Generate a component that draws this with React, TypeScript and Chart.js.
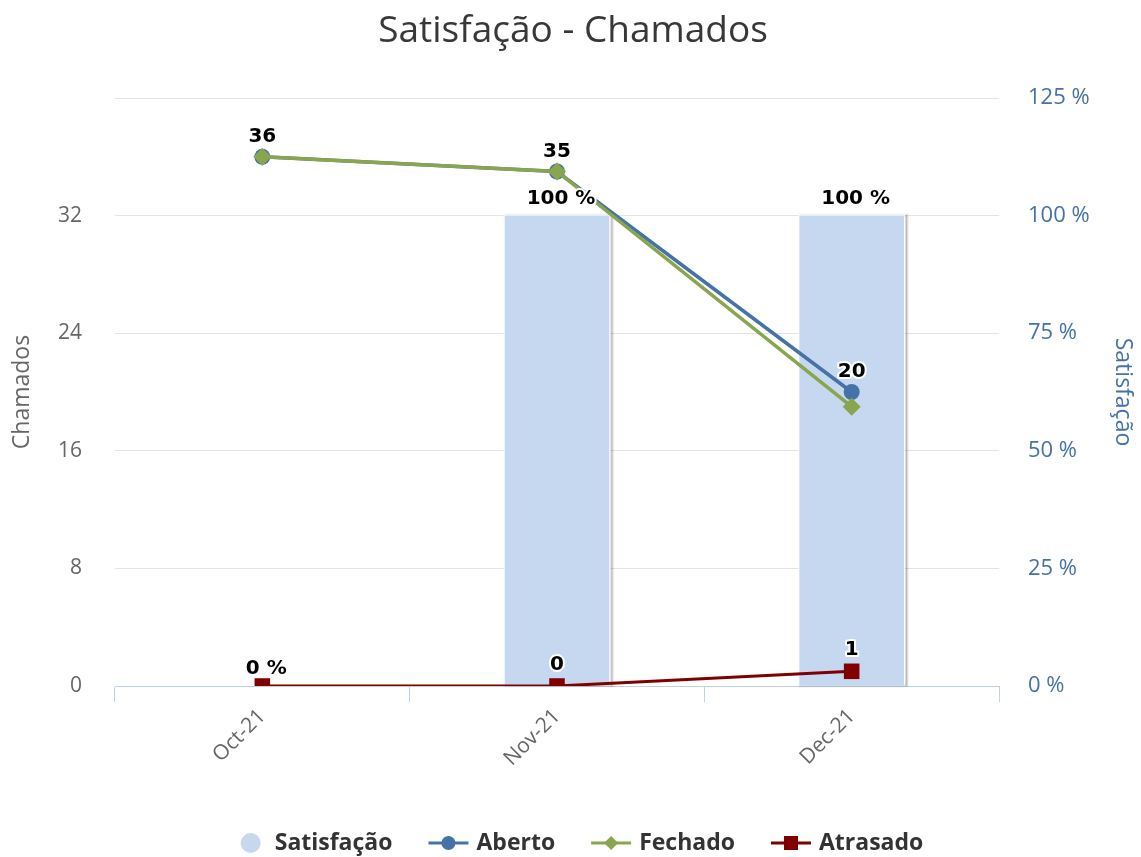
import React, { useEffect, useRef } from "react";
import { Chart, registerables } from "chart.js";

Chart.register(...registerables);

const categories = ["Oct-21", "Nov-21", "Dec-21"];
const satisfacao = [0, 100, 100];
const aberto = [36, 35, 20];
const fechado = [36, 35, 19];
const atrasado = [0, 0, 1];

const satisfacaoLabelShown = [true, true, true];
const abertoLabelShown = [true, true, true];
const fechadoLabelShown = [false, false, false];
const atrasadoLabelShown = [false, true, true];

const leftAxisMax = 40;
const leftAxisStep = 8;
const rightAxisMax = 125;
const rightAxisStep = 25;

const TITLE = "Satisfação - Chamados";
const LEFT_TITLE = "Chamados";
const RIGHT_TITLE = "Satisfação";

const COLORS = {
  bar: "#C5D8F0",
  aberto: "#4572A7",
  fechado: "#89A54E",
  atrasado: "#800000",
  axisBlue: "#4572A7",
  tick: "#666666",
  grid: "#E3E3E3",
  axisLine: "#C0D0E0",
};

const FONT_MAIN = '"Open Sans", "DejaVu Sans", sans-serif';
const FONT_LABEL = '"DejaVu Sans", Verdana, sans-serif';

const WIDTH = 1141;
const HEIGHT = 857;

function drawMarker(ctx: CanvasRenderingContext2D, kind: string, x: number, y: number, r: number, color: string) {
  ctx.fillStyle = color;
  ctx.beginPath();
  if (kind === "circle") {
    ctx.arc(x, y, r, 0, Math.PI * 2);
  } else if (kind === "rectRot") {
    ctx.moveTo(x, y - r);
    ctx.lineTo(x + r, y);
    ctx.lineTo(x, y + r);
    ctx.lineTo(x - r, y);
    ctx.closePath();
  } else {
    ctx.rect(x - r, y - r, r * 2, r * 2);
  }
  ctx.fill();
}

// Highcharts-like bar shadow: offset strokes under the bar plus a white border
const barShadowPlugin = {
  id: "barShadow",
  beforeDatasetDraw(chart: any, args: any) {
    const ds = chart.data.datasets[args.index];
    if (ds.type !== "bar") return;
    const ctx = chart.ctx as CanvasRenderingContext2D;
    const meta = chart.getDatasetMeta(args.index);
    ctx.save();
    meta.data.forEach((el: any) => {
      const h = el.base - el.y;
      if (h <= 0) return;
      const left = el.x - el.width / 2;
      const strokes = [
        { w: 5, a: 0.05 },
        { w: 3, a: 0.1 },
        { w: 1, a: 0.15 },
      ];
      strokes.forEach((s) => {
        ctx.strokeStyle = `rgba(0,0,0,${s.a})`;
        ctx.lineWidth = s.w;
        ctx.strokeRect(left + 1.5, el.y + 0.5, el.width + 1, h - 1);
      });
      ctx.fillStyle = "#FFFFFF";
      ctx.fillRect(left - 1, el.y - 1, el.width + 2, h + 1);
    });
    ctx.restore();
  },
};

const dataLabelPlugin = {
  id: "dataLabelsCustom",
  afterDatasetsDraw(chart: any) {
    const ctx = chart.ctx as CanvasRenderingContext2D;
    chart.data.datasets.forEach((ds: any, di: number) => {
      const shown: boolean[] = ds.labelShown;
      if (!shown) return;
      const meta = chart.getDatasetMeta(di);
      meta.data.forEach((el: any, i: number) => {
        if (!shown[i]) return;
        const v = ds.data[i];
        const text = `${v}${ds.labelSuffix || ""}`;
        const x = el.x + (ds.labelDx || 0);
        const y = el.y - ds.labelOffset;
        ctx.save();
        ctx.font = `bold 20px ${FONT_LABEL}`;
        ctx.textAlign = "center";
        ctx.textBaseline = "alphabetic";
        ctx.lineJoin = "round";
        ctx.strokeStyle = "#FFFFFF";
        ctx.lineWidth = 4;
        ctx.strokeText(text, x, y);
        ctx.fillStyle = "#000000";
        ctx.fillText(text, x, y);
        ctx.restore();
      });
    });
  },
};

const titleLegendPlugin = {
  id: "titleLegend",
  afterDraw(chart: any) {
    const ctx = chart.ctx as CanvasRenderingContext2D;
    ctx.save();
    // Title
    ctx.font = `normal 37px ${FONT_MAIN}`;
    ctx.fillStyle = "#383838";
    ctx.textAlign = "center";
    ctx.textBaseline = "alphabetic";
    ctx.fillText(TITLE, 573, 42);

    // Legend
    const items = chart.data.datasets
      .slice()
      .sort((a: any, b: any) => a.legendIndex - b.legendIndex)
      .map((d: any) => ({
        label: d.label,
        color: d.type === "bar" ? d.backgroundColor : d.borderColor,
        kind: d.type === "bar" ? "bar" : d.pointStyle,
      }));
    ctx.font = `bold 23px ${FONT_MAIN}`;
    const symW = 40;
    const symGap = 8;
    const itemGap = 36;
    const widths = items.map((it: any) => symW + symGap + ctx.measureText(it.label).width);
    const total = widths.reduce((a: number, b: number) => a + b, 0) + itemGap * (items.length - 1);
    let x = 575 - total / 2;
    const cy = 843;
    items.forEach((it: any, i: number) => {
      const mid = x + symW / 2;
      if (it.kind === "bar") {
        drawMarker(ctx, "circle", mid + 4, cy, 10, it.color);
      } else {
        ctx.strokeStyle = it.color;
        ctx.lineWidth = 3;
        ctx.beginPath();
        ctx.moveTo(x, cy);
        ctx.lineTo(x + symW, cy);
        ctx.stroke();
        drawMarker(ctx, it.kind, mid, cy, 7, it.color);
      }
      ctx.fillStyle = "#333333";
      ctx.textAlign = "left";
      ctx.textBaseline = "middle";
      ctx.fillText(it.label, x + symW + symGap, cy);
      x += widths[i] + itemGap;
    });
    ctx.restore();
  },
};

export default function App() {
  const canvasRef = useRef<HTMLCanvasElement | null>(null);

  useEffect(() => {
    if (!canvasRef.current) return;
    const chart = new Chart(canvasRef.current, {
      data: {
        labels: categories,
        datasets: [
          {
            type: "bar",
            label: "Satisfação",
            data: satisfacao,
            yAxisID: "yRight",
            backgroundColor: COLORS.bar,
            borderWidth: 0,
            barPercentage: 0.355,
            categoryPercentage: 1,
            order: 4,
            labelShown: satisfacaoLabelShown,
            labelSuffix: " %",
            labelOffset: 12,
            labelDx: 4,
            legendIndex: 0,
          } as any,
          {
            type: "line",
            label: "Aberto",
            data: aberto,
            yAxisID: "yLeft",
            borderColor: COLORS.aberto,
            backgroundColor: COLORS.aberto,
            borderWidth: 3.5,
            pointStyle: "circle",
            pointRadius: 8,
            pointBorderWidth: 0,
            order: 2,
            labelShown: abertoLabelShown,
            labelOffset: 15,
            legendIndex: 1,
          } as any,
          {
            type: "line",
            label: "Fechado",
            data: fechado,
            yAxisID: "yLeft",
            borderColor: COLORS.fechado,
            backgroundColor: COLORS.fechado,
            borderWidth: 3.5,
            pointStyle: "rectRot",
            pointRadius: 9,
            pointBorderWidth: 0,
            order: 1,
            labelShown: fechadoLabelShown,
            labelOffset: 15,
            legendIndex: 2,
          } as any,
          {
            type: "line",
            label: "Atrasado",
            data: atrasado,
            yAxisID: "yLeft",
            borderColor: COLORS.atrasado,
            backgroundColor: COLORS.atrasado,
            borderWidth: 3,
            pointStyle: "rect",
            pointRadius: 11,
            pointBorderWidth: 0,
            order: 3,
            labelShown: atrasadoLabelShown,
            labelOffset: 16,
            legendIndex: 3,
          } as any,
        ],
      },
      options: {
        responsive: false,
        animation: false,
        devicePixelRatio: 1,
        layout: { padding: { top: 98, left: 0, right: 0, bottom: 0 } },
        plugins: {
          legend: { display: false },
          title: { display: false },
          tooltip: { enabled: false },
        },
        scales: {
          x: {
            type: "category",
            offset: true,
            grid: {
              offset: true,
              drawOnChartArea: false,
              drawTicks: true,
              tickLength: 16,
              color: COLORS.axisLine,
              lineWidth: 1,
            },
            border: { display: true, color: COLORS.axisLine, width: 1 },
            ticks: {
              maxRotation: 45,
              minRotation: 45,
              padding: 2,
              color: COLORS.tick,
              font: { family: FONT_MAIN, size: 21 },
            },
            afterFit: (scale: any) => {
              scale.height = 171;
            },
          },
          yLeft: {
            type: "linear",
            position: "left",
            min: 0,
            max: leftAxisMax,
            ticks: {
              stepSize: leftAxisStep,
              padding: 33,
              color: COLORS.tick,
              font: { family: FONT_MAIN, size: 21 },
              callback: (v: any) => (v === leftAxisMax ? "" : String(v)),
            },
            grid: { color: COLORS.grid, lineWidth: 1, drawTicks: false },
            border: { display: false },
            title: {
              display: true,
              text: LEFT_TITLE,
              color: COLORS.tick,
              font: { family: FONT_MAIN, size: 23 },
              padding: { top: 9, bottom: 0 },
            },
            afterFit: (scale: any) => {
              scale.width = 115;
            },
          },
          yRight: {
            type: "linear",
            position: "right",
            min: 0,
            max: rightAxisMax,
            ticks: {
              stepSize: rightAxisStep,
              padding: 29,
              color: COLORS.axisBlue,
              font: { family: FONT_MAIN, size: 22 },
              callback: (v: any) => `${v} %`,
            },
            grid: { drawOnChartArea: false, drawTicks: false },
            border: { display: false },
            title: {
              display: true,
              text: RIGHT_TITLE,
              color: COLORS.axisBlue,
              font: { family: FONT_MAIN, size: 23 },
              padding: { top: 5, bottom: 0 },
            },
            afterFit: (scale: any) => {
              scale.width = 142;
            },
          },
        },
      } as any,
      plugins: [barShadowPlugin, dataLabelPlugin, titleLegendPlugin],
    });
    return () => chart.destroy();
  }, []);

  return (
    <div style={{ position: "absolute", left: 0, top: 0, width: WIDTH, height: HEIGHT, background: "#FFFFFF" }}>
      <canvas ref={canvasRef} width={WIDTH} height={HEIGHT} style={{ display: "block" }} />
    </div>
  );
}
